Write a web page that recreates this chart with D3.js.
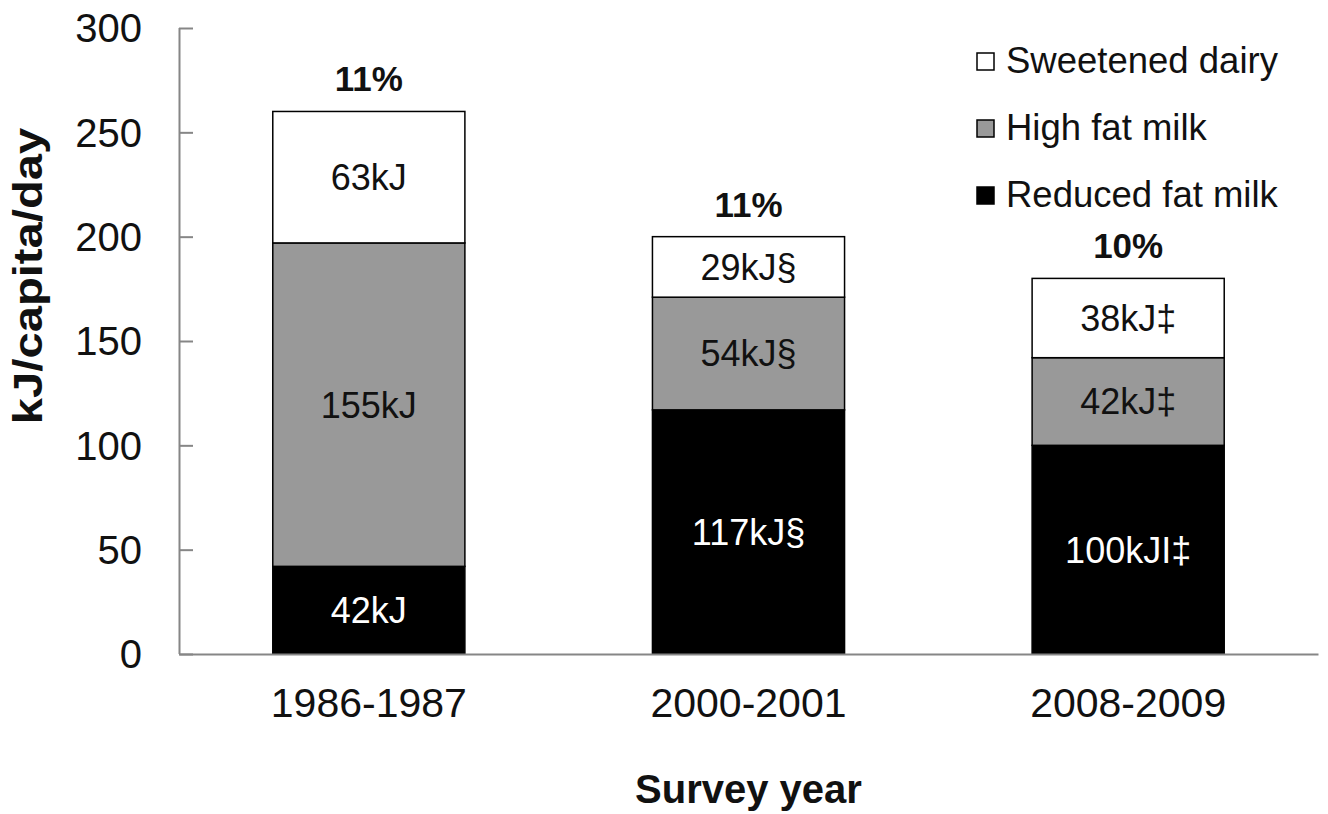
<!DOCTYPE html>
<html>
<head>
<meta charset="utf-8">
<script src="https://cdn.jsdelivr.net/npm/d3@7"></script>
<style>
  html, body { margin: 0; padding: 0; background: #fff; }
  svg { display: block; font-family: "Liberation Sans", Arial, sans-serif; }
</style>
</head>
<body>
<svg id="chart" width="1328" height="814"></svg>
<script>
// Dairy energy by survey year, kJ per capita per day
const years = ["1986-1987", "2000-2001", "2008-2009"];
const reducedFatMilk = [42, 117, 100];
const highFatMilk = [155, 54, 42];
const sweetenedDairy = [63, 29, 38];

const reducedFatLabels = ["42kJ", "117kJ§", "100kJI‡"];
const highFatLabels = ["155kJ", "54kJ§", "42kJ‡"];
const sweetenedLabels = ["63kJ", "29kJ§", "38kJ‡"];
const shareLabels = ["11%", "11%", "10%"];

const yTicks = [0, 50, 100, 150, 200, 250, 300];

const seriesKeys = ["reduced", "high", "sweet"];
const seriesNames = { sweet: "Sweetened dairy", high: "High fat milk", reduced: "Reduced fat milk" };
const fills = { reduced: "#000000", high: "#999999", sweet: "#ffffff" };
const labelColors = { reduced: "#ffffff", high: "#111111", sweet: "#111111" };
const segLabels = { reduced: reducedFatLabels, high: highFatLabels, sweet: sweetenedLabels };

const rows = years.map((yr, i) => ({
  year: yr, reduced: reducedFatMilk[i], high: highFatMilk[i], sweet: sweetenedDairy[i]
}));

const svg = d3.select("#chart");
const plotLeft = 179, plotRight = 1318, plotTop = 28, plotBottom = 654;

const x = d3.scaleBand().domain(years).range([plotLeft, plotRight]).paddingInner(0.494).paddingOuter(0.247);
const y = d3.scaleLinear().domain([0, 300]).range([plotBottom, plotTop]);

const stacked = d3.stack().keys(seriesKeys)(rows);

// stacked segments
const layer = svg.append("g").selectAll("g").data(stacked).join("g")
  .attr("fill", d => fills[d.key]);
layer.selectAll("rect").data(d => d.map(p => ({ p, key: d.key }))).join("rect")
  .attr("x", d => x(d.p.data.year))
  .attr("width", x.bandwidth())
  .attr("y", d => y(d.p[1]))
  .attr("height", d => y(d.p[0]) - y(d.p[1]))
  .attr("stroke", "#000")
  .attr("stroke-width", 1.5);

// segment value labels
stacked.forEach(s => {
  svg.append("g").selectAll("text").data(s).join("text")
    .attr("x", d => x(d.data.year) + x.bandwidth() / 2)
    .attr("y", d => (y(d[0]) + y(d[1])) / 2)
    .attr("dy", "0.36em")
    .attr("text-anchor", "middle")
    .attr("font-size", 36)
    .attr("fill", labelColors[s.key])
    .text((d, i) => segLabels[s.key][i]);
});

// share of total energy above each bar
svg.append("g").selectAll("text").data(rows).join("text")
  .attr("x", d => x(d.year) + x.bandwidth() / 2)
  .attr("y", d => y(d.reduced + d.high + d.sweet) - 20)
  .attr("text-anchor", "middle")
  .attr("font-size", 35)
  .attr("font-weight", "bold")
  .attr("fill", "#111")
  .text((d, i) => shareLabels[i]);

// y axis
const yAxis = svg.append("g").attr("transform", `translate(${plotLeft},0)`)
  .call(d3.axisRight(y).tickValues(yTicks).tickSize(14).tickFormat(""));
yAxis.select(".domain").attr("stroke", "#868686").attr("stroke-width", 2).attr("d", `M0.5,${plotTop}V${plotBottom}`);
yAxis.selectAll(".tick line").attr("stroke", "#868686").attr("stroke-width", 2);

svg.append("g").selectAll("text").data(yTicks).join("text")
  .attr("x", 142)
  .attr("y", d => y(d))
  .attr("dy", "0.36em")
  .attr("text-anchor", "end")
  .attr("font-size", 40)
  .attr("fill", "#111")
  .text(d => d);

// x axis
const xAxis = svg.append("g").attr("transform", `translate(0,${plotBottom})`)
  .call(d3.axisBottom(x).tickSize(0).tickPadding(0).tickFormat(""));
xAxis.select(".domain").attr("stroke", "#868686").attr("stroke-width", 2);

svg.append("g").selectAll("text").data(years).join("text")
  .attr("x", d => x(d) + x.bandwidth() / 2)
  .attr("y", 717)
  .attr("text-anchor", "middle")
  .attr("font-size", 41)
  .attr("fill", "#111")
  .text(d => d);

// axis titles
svg.append("text")
  .attr("x", (plotLeft + plotRight) / 2)
  .attr("y", 803)
  .attr("text-anchor", "middle")
  .attr("font-size", 40)
  .attr("font-weight", "bold")
  .attr("fill", "#111")
  .text("Survey year");

svg.append("text")
  .attr("transform", "translate(42,276) rotate(-90) scale(1.18,1)")
  .attr("text-anchor", "middle")
  .attr("font-size", 40)
  .attr("font-weight", "bold")
  .attr("fill", "#111")
  .text("kJ/capita/day");

// legend
const legendKeys = ["sweet", "high", "reduced"];
const legend = svg.append("g").selectAll("g").data(legendKeys).join("g")
  .attr("transform", (d, i) => `translate(977,${73 + i * 67})`);
legend.append("rect")
  .attr("x", 0).attr("y", -20).attr("width", 17).attr("height", 17)
  .attr("fill", d => fills[d]).attr("stroke", "#000").attr("stroke-width", 1.5);
legend.append("text")
  .attr("x", 29).attr("y", 0)
  .attr("font-size", 36.5)
  .attr("fill", "#111")
  .text(d => seriesNames[d]);
</script>
</body>
</html>
